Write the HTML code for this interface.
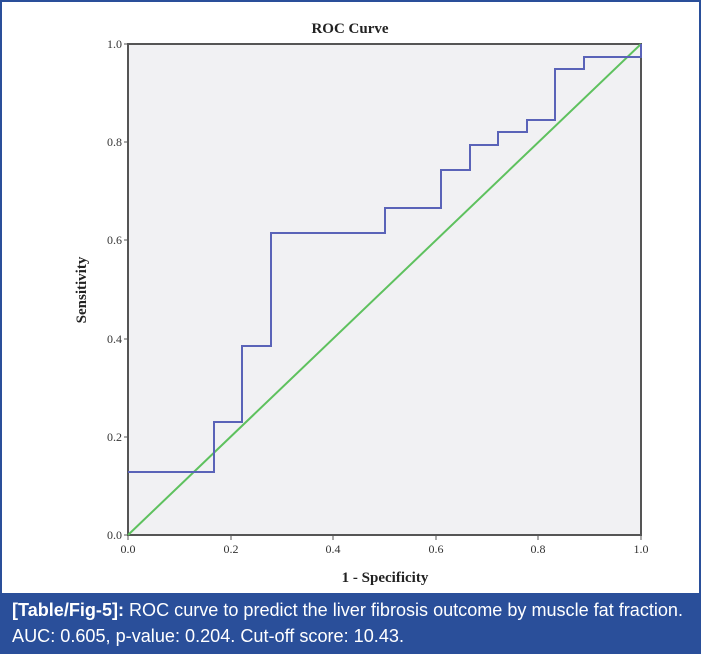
<!DOCTYPE html><html><head><style>
body{margin:0;background:#fff;width:701px;height:654px;overflow:hidden;font-family:"Liberation Sans",sans-serif}
</style></head><body>
<svg width="701" height="654" viewBox="0 0 701 654" xmlns="http://www.w3.org/2000/svg">
<rect x="1" y="1" width="699" height="652" fill="#fff" stroke="#2a4f9a" stroke-width="2"/>
<text x="350" y="33" text-anchor="middle" font-family="Liberation Serif" font-weight="bold" font-size="15" fill="#222">ROC Curve</text>
<rect x="128" y="44" width="513" height="491" fill="#f1f1f3" stroke="#555" stroke-width="2"/>
<line x1="128" y1="535" x2="641" y2="44" stroke="#5ec15e" stroke-width="2"/>
<polyline fill="none" stroke="#5a63b8" stroke-width="2" points="
128,472 214,472 214,422 242,422 242,346 271,346 271,233 385,233 385,208 441,208 441,170 470,170 470,145 498,145 498,132 527,132 527,120 555,120 555,69 584,69 584,57 641,57 641,44"/>
<g font-family="Liberation Serif" font-size="12" fill="#333" text-anchor="end">
<text x="122" y="539">0.0</text><text x="122" y="441">0.2</text><text x="122" y="343">0.4</text><text x="122" y="244">0.6</text><text x="122" y="146">0.8</text><text x="122" y="48">1.0</text>
</g>
<g stroke="#555" stroke-width="1">
<line x1="124" y1="535" x2="128" y2="535"/><line x1="124" y1="437" x2="128" y2="437"/><line x1="124" y1="339" x2="128" y2="339"/><line x1="124" y1="240" x2="128" y2="240"/><line x1="124" y1="142" x2="128" y2="142"/><line x1="124" y1="44" x2="128" y2="44"/>
<line x1="128" y1="535" x2="128" y2="540"/><line x1="231" y1="535" x2="231" y2="540"/><line x1="333" y1="535" x2="333" y2="540"/><line x1="436" y1="535" x2="436" y2="540"/><line x1="538" y1="535" x2="538" y2="540"/><line x1="641" y1="535" x2="641" y2="540"/>
</g>
<g font-family="Liberation Serif" font-size="12" fill="#333" text-anchor="middle">
<text x="128" y="553">0.0</text><text x="231" y="553">0.2</text><text x="333" y="553">0.4</text><text x="436" y="553">0.6</text><text x="538" y="553">0.8</text><text x="641" y="553">1.0</text>
</g>
<text x="385" y="582" text-anchor="middle" font-family="Liberation Serif" font-weight="bold" font-size="15" fill="#222">1 - Specificity</text>
<text transform="translate(86,290) rotate(-90)" text-anchor="middle" font-family="Liberation Serif" font-weight="bold" font-size="15" fill="#222">Sensitivity</text>
<rect x="2" y="593" width="697" height="59" fill="#2a4f9a"/>
<text x="12" y="616" font-size="18" fill="#fff" textLength="671" lengthAdjust="spacingAndGlyphs"><tspan font-weight="bold">[Table/Fig-5]:</tspan> ROC curve to predict the liver fibrosis outcome by muscle fat fraction.</text>
<text x="12" y="642" font-size="18" fill="#fff" textLength="392" lengthAdjust="spacingAndGlyphs">AUC: 0.605, p-value: 0.204. Cut-off score: 10.43.</text>
</svg>
</body></html>
